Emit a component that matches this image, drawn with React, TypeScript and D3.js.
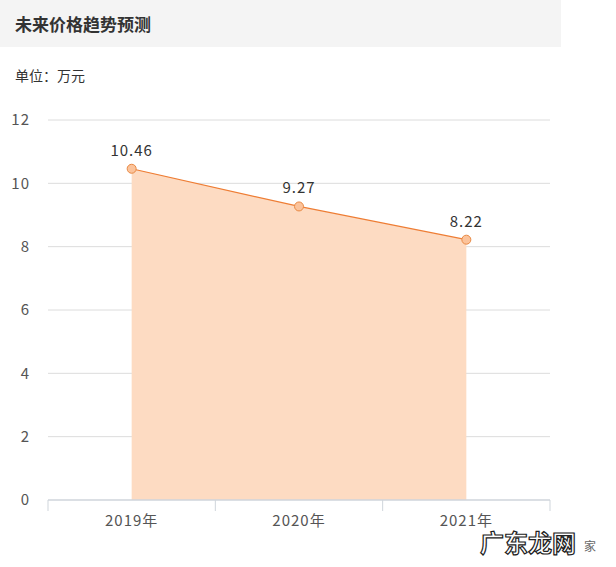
import React from "react";
import * as d3 from "d3";

const categories = ["2019年", "2020年", "2021年"];
const values = [10.46, 9.27, 8.22];
const yTicks = [0, 2, 4, 6, 8, 10, 12];
const title = "未来价格趋势预测";
const unitLabel = "单位：万元";

const W = 616;
const H = 567;
const left = 48;
const right = 550;
const top = 120;
const bottom = 500;
const font = "'Noto Sans CJK SC', 'Noto Sans', sans-serif";

export default function App() {
  const x = d3.scaleBand<string>().domain(categories).range([left, right]).padding(0);
  const y = d3.scaleLinear().domain([0, 12]).range([bottom, top]);
  const cx = (c: string) => (x(c) as number) + x.bandwidth() / 2;
  const pts = categories.map((c, i) => [cx(c), y(values[i])] as [number, number]);
  const line = d3.line<[number, number]>()(pts) || "";
  const area = d3
    .area<[number, number]>()
    .x((d) => d[0])
    .y0(y(0))
    .y1((d) => d[1])(pts) || "";
  const ticksX = [left, ...categories.map((c) => (x(c) as number) + x.bandwidth())];

  return (
    <svg width={W} height={H} style={{ position: "absolute", left: 0, top: 0, background: "#fff" }}>
      <rect x={0} y={0} width={561} height={47} fill="#f4f4f4" />
      <text x={15} y={31} fontFamily={font} fontSize={17} fontWeight="bold" fill="#333">
        {title}
      </text>
      <text x={15} y={81} fontFamily={font} fontSize={14} fill="#333">
        {unitLabel}
      </text>
      {yTicks.map((t) => (
        <g key={t}>
          {t !== 0 && (
            <line x1={left} x2={right} y1={y(t)} y2={y(t)} stroke="#dcdcdc" strokeWidth={1} />
          )}
          <text x={30} y={y(t)} dy="0.35em" textAnchor="end" fontFamily={font} fontSize={15} letterSpacing={1} fill="#555">
            {t}
          </text>
        </g>
      ))}
      <path d={area} fill="#fddbc2" />
      <path d={line} fill="none" stroke="#ee7d34" strokeWidth={1.2} />
      <line x1={left} x2={right} y1={y(0)} y2={y(0)} stroke="#cfd5db" strokeWidth={1.5} />
      {ticksX.map((tx, i) => (
        <line key={i} x1={tx} x2={tx} y1={y(0)} y2={y(0) + 11} stroke="#cfd5db" strokeWidth={1} />
      ))}
      {categories.map((c) => (
        <text key={c} x={cx(c)} y={521} dy="0.35em" textAnchor="middle" fontFamily={font} fontSize={15} letterSpacing={1} fill="#555">
          {c}
        </text>
      ))}
      {pts.map((p, i) => (
        <g key={i}>
          <circle cx={p[0]} cy={p[1]} r={4.5} fill="#fbc39b" stroke="#e98a45" strokeWidth={1} />
          <text x={p[0]} y={p[1] - 13} textAnchor="middle" fontFamily={font} fontSize={15} letterSpacing={1} fill="#333">
            {values[i].toFixed(2)}
          </text>
        </g>
      ))}
      <text x={480} y={552} fontFamily={font} fontSize={24} fontWeight="bold" fill="#fff" stroke="#222" strokeWidth={1.2}>
        广东龙网
      </text>
      <text x={584} y={551} fontFamily={font} fontSize={12} fill="#666">
        家
      </text>
    </svg>
  );
}
